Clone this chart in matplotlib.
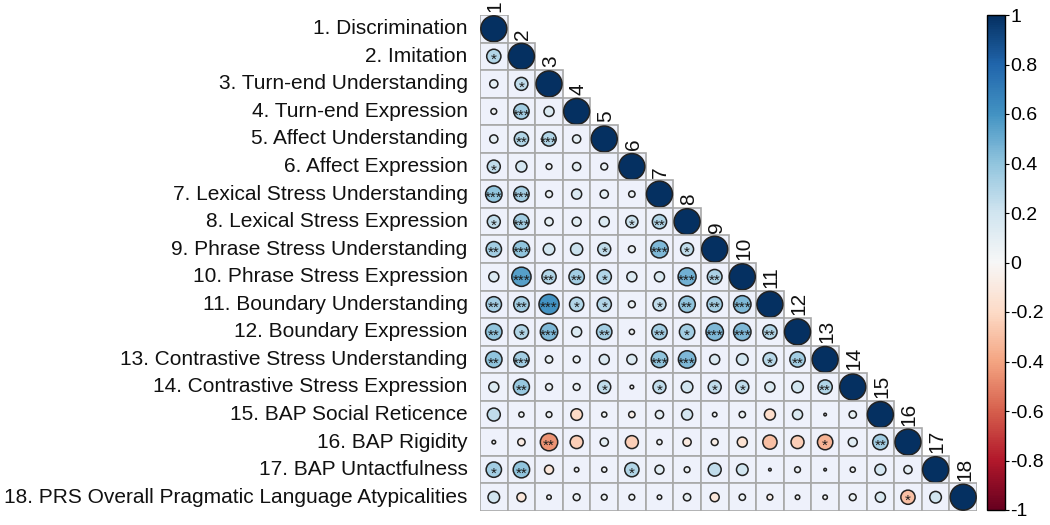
import numpy as np
import matplotlib
matplotlib.use("Agg")
import matplotlib.pyplot as plt
from matplotlib.patches import Circle, Rectangle
from matplotlib.colors import Normalize

plt.rcParams['font.family'] = ['Liberation Sans', 'DejaVu Sans']

labels = ["1. Discrimination", "2. Imitation", "3. Turn-end Understanding",
          "4. Turn-end Expression", "5. Affect Understanding", "6. Affect Expression",
          "7. Lexical Stress Understanding", "8. Lexical Stress Expression",
          "9. Phrase Stress Understanding", "10. Phrase Stress Expression",
          "11. Boundary Understanding", "12. Boundary Expression",
          "13. Contrastive Stress Understanding", "14. Contrastive Stress Expression",
          "15. BAP Social Reticence", "16. BAP Rigidity", "17. BAP Untactfulness",
          "18. PRS Overall Pragmatic Language Atypicalities"]

# lower triangle correlations (row i, columns 1..i-1), diagonal = 1
corr_rows = [
    [],
    [0.30],
    [0.10, 0.25],
    [0.05, 0.35, 0.15],
    [0.10, 0.30, 0.30, 0.10],
    [0.25, 0.18, 0.05, 0.10, 0.07],
    [0.40, 0.35, 0.07, 0.15, 0.10, 0.06],
    [0.25, 0.35, 0.10, 0.12, 0.15, 0.22, 0.30],
    [0.35, 0.40, 0.20, 0.22, 0.25, 0.07, 0.45, 0.25],
    [0.15, 0.55, 0.30, 0.35, 0.30, 0.15, 0.15, 0.48, 0.32],
    [0.35, 0.35, 0.60, 0.30, 0.30, 0.07, 0.25, 0.40, 0.35, 0.45],
    [0.40, 0.30, 0.45, 0.15, 0.35, 0.04, 0.35, 0.35, 0.45, 0.45, 0.30],
    [0.40, 0.35, 0.08, 0.07, 0.15, 0.15, 0.40, 0.45, 0.15, 0.20, 0.28, 0.35],
    [0.15, 0.38, 0.07, 0.07, 0.25, 0.02, 0.25, 0.20, 0.25, 0.25, 0.15, 0.20, 0.30],
    [0.25, 0.04, 0.05, -0.20, 0.04, -0.06, 0.10, 0.18, 0.03, 0.06, -0.18, 0.15, 0.01, 0.08],
    [0.02, -0.08, -0.45, -0.25, 0.10, -0.25, 0.04, -0.10, -0.07, -0.15, -0.30, -0.25, -0.35, 0.12, 0.35],
    [0.35, 0.40, -0.12, 0.03, 0.04, 0.30, 0.12, 0.05, 0.25, 0.20, 0.01, 0.05, 0.01, 0.04, 0.18, 0.10],
    [0.20, -0.12, 0.03, 0.07, 0.05, 0.05, 0.03, 0.08, -0.12, 0.06, -0.05, 0.03, 0.03, 0.07, 0.15, -0.30, 0.20],
]

# number of significance stars per cell
star_rows = [
    [],
    [1],
    [0, 1],
    [0, 3, 0],
    [0, 2, 3, 0],
    [1, 0, 0, 0, 0],
    [3, 3, 0, 0, 0, 0],
    [1, 3, 0, 0, 0, 1, 2],
    [2, 3, 0, 0, 1, 0, 3, 1],
    [0, 3, 2, 2, 1, 0, 0, 3, 2],
    [2, 2, 3, 1, 1, 0, 1, 2, 2, 3],
    [2, 1, 3, 0, 2, 0, 2, 1, 3, 3, 2],
    [2, 3, 0, 0, 0, 0, 3, 3, 0, 0, 1, 2],
    [0, 2, 0, 0, 1, 0, 1, 0, 1, 1, 0, 0, 2],
    [0, 0, 0, 0, 0, 0, 0, 0, 0, 0, 0, 0, 0, 0],
    [0, 0, 2, 0, 0, 0, 0, 0, 0, 0, 0, 0, 1, 0, 2],
    [1, 2, 0, 0, 0, 1, 0, 0, 0, 0, 0, 0, 0, 0, 0, 0],
    [0, 0, 0, 0, 0, 0, 0, 0, 0, 0, 0, 0, 0, 0, 0, 1, 0],
]

n = len(labels)
cmap = plt.get_cmap('RdBu')
norm = Normalize(-1, 1)

fig = plt.figure(figsize=(10.5, 5.25), dpi=100)
ax = fig.add_axes([480 / 1050, 1 - 511 / 525, 497 / 1050, 496 / 525])
ax.set_xlim(0, n)
ax.set_ylim(n, 0)
ax.axis('off')

for i in range(n):
    vals = corr_rows[i] + [1.0]
    stars = star_rows[i] + [0]
    for j in range(i + 1):
        r = vals[j]
        ax.add_patch(Rectangle((j, i), 1, 1, facecolor='#eef1fb', edgecolor='#a8a8a8', lw=1.2))
        ax.add_patch(Circle((j + 0.5, i + 0.5), 0.47 * np.sqrt(abs(r)),
                            facecolor=cmap(norm(r)), edgecolor='#222222', lw=1.1))
        if stars[j] > 0:
            ax.text(j + 0.5, i + 0.64, '*' * stars[j], ha='center', va='center',
                    fontsize=11, color='#1a1a1a')
    ax.text(-0.45, i + 0.5, labels[i], ha='right', va='center', fontsize=15, color='#111111')
    ax.text(i + 0.55, i - 0.1, str(i + 1), ha='center', va='bottom', rotation=90,
            fontsize=15, color='#111111')

cax = fig.add_axes([987 / 1050, 1 - 510 / 525, 18 / 1050, 495 / 525])
sm = matplotlib.cm.ScalarMappable(norm=norm, cmap=cmap)
cb = fig.colorbar(sm, cax=cax)
ticks = np.round(np.arange(-1, 1.01, 0.2), 1)
cb.set_ticks(ticks)
cb.set_ticklabels(['0' if abs(t) < 1e-9 else ('%g' % t) for t in ticks])
cb.ax.tick_params(labelsize=14, length=3, width=0.8, pad=1)
cb.outline.set_linewidth(1)

fig.savefig('out.png', dpi=100)
